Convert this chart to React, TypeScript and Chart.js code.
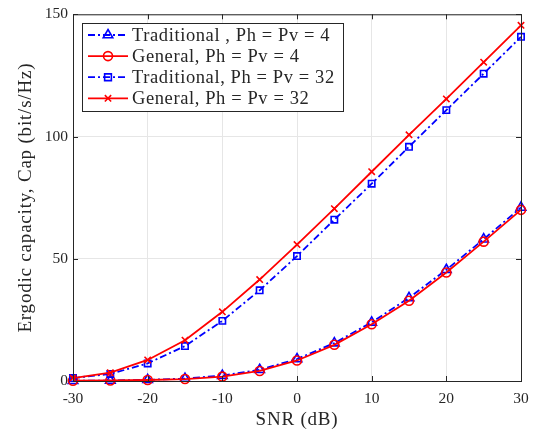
import React, { useEffect, useRef } from 'react';
import { Chart, registerables } from 'chart.js';
Chart.register(...registerables);

const snr = [-30, -25, -20, -15, -10, -5, 0, 5, 10, 15, 20, 25, 30];
const trad4 = [0.1, 0.2, 0.5, 1.0, 2.2, 4.6, 9.0, 15.5, 24.0, 34.0, 45.5, 58.0, 71.0];
const gen4 = [0.1, 0.2, 0.4, 0.8, 1.8, 4.1, 8.4, 14.8, 23.2, 32.8, 44.4, 57.0, 70.0];
const trad32 = [1.2, 2.9, 7.2, 14.3, 24.6, 37.1, 51.1, 66.0, 80.7, 95.8, 110.8, 125.7, 140.8];
const gen32 = [1.2, 3.4, 8.6, 16.7, 28.3, 41.5, 55.8, 70.5, 85.6, 100.7, 115.4, 130.4, 145.5];
const seriesLabels = [
  'Traditional , Ph = Pv = 4',
  'General, Ph = Pv = 4',
  'Traditional, Ph = Pv = 32',
  'General, Ph = Pv = 32',
];
const xTicks = [-30, -20, -10, 0, 10, 20, 30];
const yTicks = [0, 50, 100, 150];
const xTitle = 'SNR (dB)';
const yTitle = 'Ergodic capacity, Cap (bit/s/Hz)';

const BLUE = '#0000ff';
const RED = '#ff0000';
const AX = '#262626';
const FONT = '"Liberation Serif", serif';
const DASHDOT = [7, 3, 2, 3];

const styles = [
  { color: BLUE, dash: DASHDOT, marker: 'triangle', r: 5.5 },
  { color: RED, dash: [], marker: 'circle', r: 4.5 },
  { color: BLUE, dash: DASHDOT, marker: 'rect', r: 4.5 },
  { color: RED, dash: [], marker: 'crossRot', r: 4.5 },
];
const seriesData = [trad4, gen4, trad32, gen32];

function drawMarker(ctx: CanvasRenderingContext2D, kind: string, x: number, y: number, r: number, color: string) {
  ctx.save();
  ctx.setLineDash([]);
  ctx.strokeStyle = color;
  ctx.lineWidth = 1.6;
  ctx.beginPath();
  if (kind === 'triangle') {
    ctx.moveTo(x, y - r);
    ctx.lineTo(x + r * 0.87, y + r * 0.5);
    ctx.lineTo(x - r * 0.87, y + r * 0.5);
    ctx.closePath();
  } else if (kind === 'circle') {
    ctx.arc(x, y, r, 0, Math.PI * 2);
  } else if (kind === 'rect') {
    const s = r * 0.75;
    ctx.rect(x - s, y - s, 2 * s, 2 * s);
  } else {
    const s = r * 0.7;
    ctx.moveTo(x - s, y - s);
    ctx.lineTo(x + s, y + s);
    ctx.moveTo(x + s, y - s);
    ctx.lineTo(x - s, y + s);
  }
  ctx.stroke();
  ctx.restore();
}

const framePlugin = {
  id: 'frame',
  afterDraw(chart: any) {
    const { ctx, chartArea: a, scales } = chart;
    ctx.save();
    ctx.strokeStyle = AX;
    ctx.lineWidth = 1;
    ctx.setLineDash([]);
    ctx.strokeRect(a.left + 0.5, a.top + 0.5, a.right - a.left, a.bottom - a.top);
    const L = 5;
    ctx.beginPath();
    xTicks.forEach((v) => {
      const px = Math.round(scales.x.getPixelForValue(v)) + 0.5;
      ctx.moveTo(px, a.bottom);
      ctx.lineTo(px, a.bottom - L);
      ctx.moveTo(px, a.top);
      ctx.lineTo(px, a.top + L);
    });
    yTicks.forEach((v) => {
      const py = Math.round(scales.y.getPixelForValue(v)) + 0.5;
      ctx.moveTo(a.left, py);
      ctx.lineTo(a.left + L, py);
      ctx.moveTo(a.right, py);
      ctx.lineTo(a.right - L, py);
    });
    ctx.stroke();

    // axis titles
    ctx.fillStyle = AX;
    ctx.font = `19px ${FONT}`;
    (ctx as any).letterSpacing = '0.8px';
    ctx.textAlign = 'center';
    ctx.textBaseline = 'middle';
    ctx.fillText(xTitle, (a.left + a.right) / 2, 420);
    ctx.save();
    ctx.translate(26, (a.top + a.bottom) / 2);
    ctx.rotate(-Math.PI / 2);
    ctx.fillText(yTitle, 0, 0);
    ctx.restore();

    // legend
    const bx = 82, by = 23, bw = 261, bh = 88;
    ctx.fillStyle = '#ffffff';
    ctx.fillRect(bx, by, bw, bh);
    ctx.strokeStyle = AX;
    ctx.lineWidth = 1;
    ctx.strokeRect(bx + 0.5, by + 0.5, bw, bh);
    ctx.font = `18.5px ${FONT}`;
    (ctx as any).letterSpacing = '0.6px';
    ctx.textBaseline = 'middle';
    ctx.textAlign = 'left';
    seriesLabels.forEach((lab, i) => {
      const y = by + 12 + i * 21.1;
      const st = styles[i];
      ctx.strokeStyle = st.color;
      ctx.lineWidth = 1.8;
      ctx.setLineDash(st.dash);
      ctx.beginPath();
      ctx.moveTo(88, y);
      ctx.lineTo(128, y);
      ctx.stroke();
      drawMarker(ctx, st.marker, 108, y, st.r, st.color);
      ctx.fillStyle = AX;
      ctx.fillText(lab, 132, y + 1);
    });
    ctx.restore();
  },
};

export default function App() {
  const ref = useRef<HTMLCanvasElement>(null);
  useEffect(() => {
    if (!ref.current) return;
    const datasets = seriesData.map((vals, i) => ({
      label: seriesLabels[i],
      data: snr.map((x, j) => ({ x, y: vals[j] })),
      borderColor: styles[i].color,
      borderWidth: 1.8,
      borderDash: styles[i].dash,
      pointStyle: styles[i].marker,
      pointRadius: styles[i].r,
      pointBorderWidth: 1.6,
      pointBorderColor: styles[i].color,
      pointBackgroundColor: 'rgba(0,0,0,0)',
      fill: false,
      tension: 0,
      clip: false as any,
      order: 3 - i,
    }));
    const chart = new Chart(ref.current, {
      type: 'line',
      data: { datasets },
      plugins: [framePlugin],
      options: {
        animation: false,
        responsive: false,
        events: [],
        layout: { padding: { top: 13, right: 19, left: 0, bottom: 0 } },
        plugins: { legend: { display: false }, tooltip: { enabled: false } },
        scales: {
          x: {
            type: 'linear',
            min: -30,
            max: 30,
            afterBuildTicks: (s: any) => { s.ticks = xTicks.map((v) => ({ value: v })); },
            afterFit: (s: any) => { s.height = 53; },
            grid: { color: '#e6e6e6', drawTicks: false, lineWidth: 1 },
            border: { display: false },
            ticks: { color: AX, font: { family: FONT, size: 15.5 }, padding: 9, maxRotation: 0 },
            title: { display: false },
          },
          y: {
            type: 'linear',
            min: 0,
            max: 150,
            afterBuildTicks: (s: any) => { s.ticks = yTicks.map((v) => ({ value: v })); },
            afterFit: (s: any) => { s.width = 73; },
            grid: { color: '#e6e6e6', drawTicks: false, lineWidth: 1 },
            border: { display: false },
            ticks: { color: AX, font: { family: FONT, size: 15.5 }, padding: 5 },
            title: { display: false },
          },
        },
      },
    });
    return () => chart.destroy();
  }, []);
  return (
    <div style={{ position: 'fixed', left: 0, top: 0, width: 540, height: 434, background: '#fff' }}>
      <canvas ref={ref} width={540} height={434} style={{ display: 'block' }} />
    </div>
  );
}
